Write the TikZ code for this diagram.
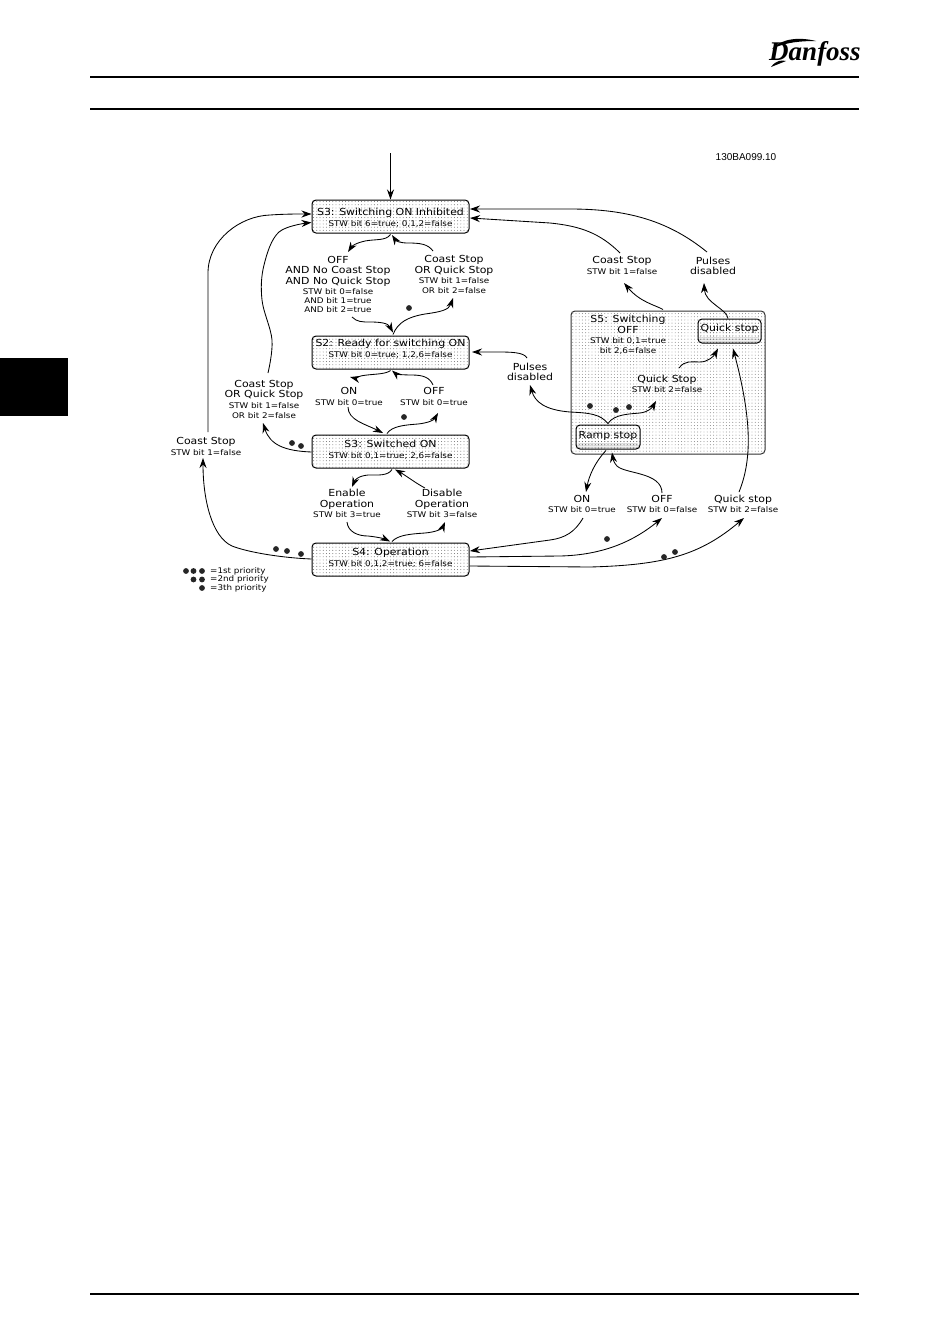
\documentclass[tikz,border=0pt]{standalone}
\usepackage{fontspec}
\setmainfont[FakeStretch=1.125]{DejaVu Sans}
\newfontfamily\narrowfont{Liberation Sans}
\newfontfamily\logofont{Liberation Serif}
\usetikzlibrary{arrows.meta,patterns}
\newcommand{\sm}{\fontsize{7.8}{10.5}\selectfont}
\newcommand{\bg}{\fontsize{9.7}{10.5}\selectfont}
\newcommand{\pd}[2]{\fill[black!85] (#1,#2) circle (2.9pt);}
\pgfdeclarepatternformonly{sparsedots}{\pgfqpoint{-1pt}{-1pt}}{\pgfqpoint{2.2pt}{2.2pt}}{\pgfqpoint{3.2pt}{3.2pt}}{%
  \pgfpathcircle{\pgfqpoint{0pt}{0pt}}{0.45pt}\pgfusepath{fill}}
\pgfdeclarepatternformonly{densedots}{\pgfqpoint{-1pt}{-1pt}}{\pgfqpoint{1pt}{1pt}}{\pgfqpoint{2pt}{2pt}}{%
  \pgfpathcircle{\pgfqpoint{0pt}{0pt}}{0.5pt}\pgfusepath{fill}}
\tikzset{
  x=1pt,y=-1pt,
  statebox/.style={draw=black,line width=1pt,rounded corners=4pt,pattern=sparsedots,pattern color=black!65,
     minimum width=157pt,minimum height=33pt,inner sep=0pt},
  outerbox/.style={draw=black!80,line width=1pt,rounded corners=4pt,pattern=sparsedots,pattern color=black!55,
     minimum width=194pt,minimum height=143pt,inner sep=0pt},
  innerbox/.style={draw=black,line width=1pt,rounded corners=4pt,pattern=sparsedots,pattern color=black!65,
     minimum width=63pt,minimum height=24pt,inner sep=0pt},
  band/.style={pattern=densedots,pattern color=black!65,rounded corners=3pt},
  lab/.style={align=center,inner sep=0pt,font=\bg},
  conn/.style={line width=0.85pt,-{Stealth[length=10pt,width=7pt]}},
  rule/.style={line width=1.8pt,black}
}
\begin{document}
\begin{tikzpicture}
\useasboundingbox (0,0) rectangle (950,1344);
\fill[white] (0,0) rectangle (950,1344);
% page furniture
\fill[black] (0,358) rectangle (68,416);
\draw[rule] (90,77) -- (859,77);
\draw[rule] (90,109) -- (859,109);
\draw[rule] (90,1294) -- (859,1294);
\node[inner sep=0pt,font=\logofont\bfseries\itshape\fontsize{27}{27}\selectfont] (logo) at (815,54) {Danfoss};
\fill[black] (772,49) .. controls (782,38) and (800,37) .. (816,41) .. controls (802,41) and (785,42) .. (772,49) -- cycle;
\fill[black] (771,67) .. controls (776,60) and (782,60) .. (786,61) .. controls (781,63) and (776,65) .. (771,67) -- cycle;
\node[inner sep=0pt,font=\narrowfont\fontsize{10}{10}\selectfont] (code) at (746,157) {130BA099.10};
% states
\node[statebox] (s3a) at (390.5,216.5) {};
\node[lab] (s3at) at (390.5,217.5) {S3: Switching ON Inhibited\\[.8pt]{\sm STW bit 6=true; 0,1,2=false}};
\node[statebox] (s2) at (390.5,352.5) {};
\node[lab] (s2t) at (390.5,349) {S2: Ready for switching ON\\[.8pt]{\sm STW bit 0=true; 1,2,6=false}};
\node[statebox] (s3b) at (390.5,451.5) {};
\node[lab] (s3bt) at (390.5,450) {S3: Switched ON\\[.8pt]{\sm STW bit 0,1=true; 2,6=false}};
\node[statebox] (s4) at (390.5,559.5) {};
\node[lab] (s4t) at (390.5,558) {S4: Operation\\[.8pt]{\sm STW bit 0,1,2=true; 6=false}};
\node[outerbox] (s5) at (668,382.5) {};
\node[lab] (s5t) at (628,335) {S5: Switching\\OFF\\{\sm STW bit 0,1=true}\\[-1pt]{\sm bit 2,6=false}};
\node[innerbox] (qs) at (729.5,331) {};
\fill[band] (699,336.5) rectangle (760,342.5);
\node[lab] (qst) at (729.5,329) {Quick stop};
\node[innerbox,minimum width=64pt] (rs) at (608,437) {};
\fill[band] (577,443) rectangle (639,448.5);
\node[lab] (rst) at (608,436) {Ramp stop};
% labels
\coordinate (entry) at (390.5,153);
\node[lab] (lOffAnd) at (338,284.5) {OFF\\AND No Coast Stop\\AND No Quick Stop\\{\sm STW bit 0=false}\\[-1.5pt]{\sm AND bit 1=true}\\[-1.5pt]{\sm AND bit 2=true}};
\node[lab] (lCoastA) at (454,274.5) {Coast Stop\\OR Quick Stop\\{\sm STW bit 1=false}\\[-.5pt]{\sm OR bit 2=false}};
\node[lab] (lOn) at (349,396.5) {ON\\{\sm STW bit 0=true}};
\node[lab] (lOff) at (434,396.5) {OFF\\{\sm STW bit 0=true}};
\node[lab] (lCoastB) at (264,399) {Coast Stop\\OR Quick Stop\\{\sm STW bit 1=false}\\[-.5pt]{\sm OR bit 2=false}};
\node[lab] (lCoastC) at (206,446.5) {Coast Stop\\{\sm STW bit 1=false}};
\node[lab] (lEn) at (347,503.5) {Enable\\Operation\\{\sm STW bit 3=true}};
\node[lab] (lDis) at (442,503.5) {Disable\\Operation\\{\sm STW bit 3=false}};
\node[lab] (lCoastR) at (622,265.5) {Coast Stop\\{\sm STW bit 1=false}};
\node[lab] (lPul) at (713,266) {Pulses\\disabled};
\node[lab] (lPulM) at (530,372) {Pulses\\disabled};
\node[lab] (lQS) at (667,384) {Quick Stop\\{\sm STW bit 2=false}};
\node[lab] (lOnR) at (582,504) {ON\\{\sm STW bit 0=true}};
\node[lab] (lOffR) at (662,504) {OFF\\{\sm STW bit 0=false}};
\node[lab] (lQR) at (743,504) {Quick stop\\{\sm STW bit 2=false}};
% connectors
\draw[conn] (entry) -- (s3a.north);
\draw[conn] ([shift={(2,-14.5)}]lCoastC.center) -- (208,273) .. controls (208,240) and (240,216) .. (270,215) .. controls (285,214) and (295,214) .. ([shift={(0,-2.5)}]s3a.west);
\draw[conn] plot[smooth,tension=.6] coordinates {([shift={(4,-26)}]lCoastB.center) (272,340) (262,300) (264,265) (279,232) ([shift={(0,6)}]s3a.west)};
\draw[conn] ([shift={(0,1)}]s3a.south) .. controls (386,241) and (375,239) .. (365,241) .. controls (356,243) and (352,246) .. ([shift={(10,-32.5)}]lOffAnd.center);
\draw[conn] ([shift={(-21,-23.5)}]lCoastA.center) .. controls (428,244) and (420,243) .. (408,243) .. controls (400,243) and (396,241) .. ([shift={(1.5,1.5)}]s3a.south);
\draw[conn] ([shift={(14,32.5)}]lOffAnd.center) .. controls (357,322) and (362,322) .. (370,322) .. controls (380,322) and (388,323) .. ([shift={(2.5,-3)}]s2.north);
\draw[conn] ([shift={(2.5,-1)}]s2.north) .. controls (398,322) and (408,317) .. (425,314) .. controls (440,312) and (449,310) .. ([shift={(-1,23.5)}]lCoastA.center);
\draw[conn] ([shift={(0,1)}]s2.south) .. controls (386,374) and (376,374) .. (367,375) .. controls (358,376) and (354,378) .. ([shift={(1,-19.5)}]lOn.center);
\draw[conn] ([shift={(-1,-11.5)}]lOff.center) .. controls (430,378) and (424,375) .. (412,375) .. controls (402,375) and (396,374) .. ([shift={(1.5,1)}]s2.south);
\draw[conn] ([shift={(-1,10.5)}]lOn.center) .. controls (348,420) and (365,424) .. ([shift={(-7.5,-1.5)}]s3b.north);
\draw[conn] ([shift={(-3.5,-1)}]s3b.north) .. controls (392,426) and (405,425) .. (418,424) .. controls (428,423) and (434,420) .. ([shift={(4,16.5)}]lOff.center);
\draw[conn] ([shift={(0,.5)}]s3b.west) .. controls (285,451) and (270,445) .. ([shift={(-1,24)}]lCoastB.center);
\draw[conn] ([shift={(1.5,1)}]s3b.south) .. controls (388,476) and (378,475) .. (368,475) .. controls (358,476) and (355,480) .. ([shift={(5,-16.5)}]lEn.center);
\draw[conn] ([shift={(-17,-15.5)}]lDis.center) .. controls (417,484) and (405,475) .. ([shift={(4.5,1)}]s3b.south);
\draw[conn] ([shift={(0,18.5)}]lEn.center) .. controls (348,532) and (358,536) .. (368,536) .. controls (378,537) and (385,539) .. ([shift={(-.5,-1)}]s4.north);
\draw[conn] ([shift={(1.5,-1)}]s4.north) .. controls (398,535) and (410,534) .. (425,533) .. controls (436,532) and (442,529) .. ([shift={(3,18.5)}]lDis.center);
\draw[conn] ([shift={(0,-.5)}]s4.west) .. controls (285,558) and (250,553) .. (232,546) .. controls (212,537) and (203,500) .. ([shift={(-3,11.5)}]lCoastC.center);
\draw[conn] ([shift={(-6,-14)}]lPul.center) .. controls (670,222) and (630,209) .. (570,209) -- ([shift={(.5,-7.5)}]s3a.east);
\draw[conn] ([shift={(-2,-12.5)}]lCoastR.center) .. controls (600,233) and (580,226) .. (550,223) -- ([shift={(.5,1.5)}]s3a.east);
\draw[conn] ([shift={(-5,-1)}]s5.north) .. controls (655,305) and (640,302) .. ([shift={(2,17.5)}]lCoastR.center);
\draw[conn] ([shift={(-1.5,0)}]qs.north) .. controls (727,309) and (705,303) .. ([shift={(-9,17)}]lPul.center);
\draw[conn] ([shift={(-3,-14)}]lPulM.center) .. controls (524,352) and (510,352) .. (497,352) -- ([shift={(2.5,-.5)}]s2.east);
\draw[conn] ([shift={(0,-1)}]rs.north) .. controls (600,414) and (590,413) .. (570,412) .. controls (545,410) and (535,402) .. ([shift={(0,13)}]lPulM.center);
\draw[conn] ([shift={(0,-1)}]rs.north) .. controls (614,414) and (630,414) .. (640,413) .. controls (648,412) and (652,408) .. ([shift={(-11,17)}]lQS.center);
\draw[conn] ([shift={(12,-16)}]lQS.center) .. controls (685,360) and (692,362) .. (700,362) .. controls (708,362) and (714,356) .. ([shift={(-11.5,5)}]qs.south);
\draw[conn] ([shift={(-4,-12)}]lQR.center) .. controls (752,460) and (752,420) .. ([shift={(3.5,5)}]qs.south);
\draw[conn] ([shift={(-2,1)}]rs.south) .. controls (595,462) and (589,476) .. ([shift={(4,-12)}]lOnR.center);
\draw[conn] ([shift={(0,-11)}]lOffR.center) .. controls (662,472) and (625,474) .. (617,466) .. controls (614,463) and (613,459) .. ([shift={(4,3)}]rs.south);
\draw[conn] ([shift={(1,14)}]lOnR.center) .. controls (575,532) and (565,538) .. (550,540) -- ([shift={(.5,-8.5)}]s4.east);
\draw[conn] ([shift={(0,-2.5)}]s4.east) -- (560,556) .. controls (605,555) and (635,540) .. ([shift={(0,14)}]lOffR.center);
\draw[conn] ([shift={(0,6.5)}]s4.east) -- (590,567) .. controls (665,565) and (700,555) .. ([shift={(1,14)}]lQR.center);
% priority dots
\pd{409}{308} \pd{404}{417} \pd{292}{443} \pd{301}{446}
\pd{276}{549} \pd{287}{551} \pd{301}{554}
\pd{590}{406} \pd{616}{410} \pd{629}{407}
\pd{607}{539} \pd{664}{557} \pd{675}{552}
% legend
\pd{186}{571} \pd{193.5}{571} \pd{202}{571}
\pd{193.5}{579.5} \pd{202}{579.5}
\pd{202}{588}
\node[anchor=west,inner sep=0pt,font=\sm] (leg1) at (210,571) {=1st priority};
\node[anchor=west,inner sep=0pt,font=\sm] (leg2) at (210,579.5) {=2nd priority};
\node[anchor=west,inner sep=0pt,font=\sm] (leg3) at (210,588) {=3th priority};
\end{tikzpicture}
\end{document}
